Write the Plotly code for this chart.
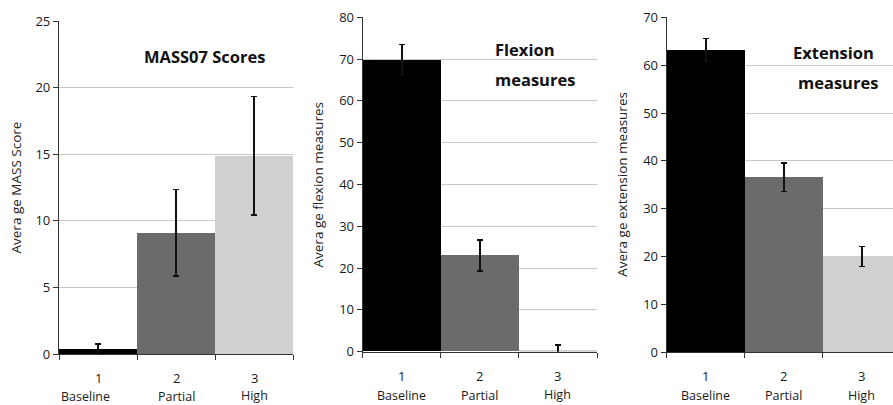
import plotly.graph_objects as go

W, H = 893, 405

categories = [1, 2, 3]
cat_names = ["Baseline", "Partial", "High"]
bar_colors = ["#000000", "#6b6b6b", "#d0d0d0"]

mass_vals = [0.35, 9.1, 14.9]
mass_err = [0.4, 3.25, 4.45]

flex_vals = [69.8, 23.0, 0.1]
flex_err = [3.7, 3.7, 1.5]

ext_vals = [63.2, 36.6, 20.0]
ext_err = [2.4, 3.0, 2.1]

y_titles = ["Avera ge MASS Score", "Avera ge flexion measures", "Avera ge extension measures"]
y_ranges = [[0, 25], [0, 80], [0, 70]]
y_dticks = [5, 10, 10]

FONT = "Open Sans"

# pixel geometry (left, right, top, bottom)
panels_px = [(59, 293, 21, 354), (362.7, 597, 17.3, 351.7), (666.7, 893, 17.3, 352.3)]
x_ranges = [[0.5, 3.5], [0.5, 3.5], [0.5, 0.5 + (893 - 666.7) / 78.1]]
ytitle_x = [15, 318, 622]
# small per-label offsets seen in the reference (panel 1 "Baseline" sits left of its tick)
name_xshift = [[-13, 0, 0], [0, 0, 0], [0, 0, 0]]
name_yshift = [[-42, -42, -41], [-44, -44, -43], [-43, -43, -43]]

fig = go.Figure()
series = [(mass_vals, mass_err), (flex_vals, flex_err), (ext_vals, ext_err)]
for i, (vals, errs) in enumerate(series):
    sfx = "" if i == 0 else str(i + 1)
    fig.add_trace(go.Bar(
        x=categories, y=vals,
        marker=dict(color=bar_colors, line=dict(width=0)),
        error_y=dict(type="data", array=errs, color="#111111", thickness=1.5, width=3),
        width=1.0,
        xaxis="x" + sfx, yaxis="y" + sfx, showlegend=False,
    ))

layout = dict(
    width=W, height=H,
    margin=dict(l=0, r=0, t=0, b=0),
    paper_bgcolor="white", plot_bgcolor="white",
    bargap=0,
    font=dict(family=FONT, color="#222222"),
)
for i, (l, r, t, b) in enumerate(panels_px):
    sfx = "" if i == 0 else str(i + 1)
    layout["xaxis" + sfx] = dict(
        domain=[l / W, min(r / W, 1.0)], range=x_ranges[i],
        anchor="y" + sfx, showgrid=False, zeroline=False,
        showline=True, linecolor="#333333", linewidth=1.2,
        tickvals=[0.5, 1.5, 2.5, 3.5], ticktext=["", "", "", ""],
        ticks="outside", ticklen=5, tickcolor="#333333",
        fixedrange=True, automargin=False,
    )
    layout["yaxis" + sfx] = dict(
        domain=[1 - b / H, 1 - t / H], range=y_ranges[i], dtick=y_dticks[i],
        anchor="x" + sfx, showgrid=True, gridcolor="#c8c8c8", gridwidth=1,
        zeroline=False, showline=True, linecolor="#333333", linewidth=1.2,
        ticks="outside", ticklen=5, tickcolor="#333333",
        tickfont=dict(size=13, color="#1a1a1a", family=FONT),
        automargin=False, fixedrange=True,
    )
fig.update_layout(**layout)


def ann(x, y, text, size, **kw):
    d = dict(x=x / W, y=1 - y / H, xref="paper", yref="paper", text=text, showarrow=False,
             xanchor="center", yanchor="middle", font=dict(size=size, family=FONT, color="#111111"))
    d.update(kw)
    return d


annotations = []
for i in range(3):
    sfx = "" if i == 0 else str(i + 1)
    l, r, t, b = panels_px[i]
    annotations.append(ann(ytitle_x[i], (t + b) / 2, y_titles[i], 13.5, textangle=-90,
                           font=dict(size=13.5, family=FONT, color="#222222")))
    for j, (c, name) in enumerate(zip(categories, cat_names)):
        annotations.append(dict(x=c, y=0, xref="x" + sfx, yref="y" + sfx, text=str(c),
                                showarrow=False, yshift=-24, font=dict(size=13, family=FONT, color="#1a1a1a")))
        annotations.append(dict(x=c, y=0, xref="x" + sfx, yref="y" + sfx, text=name,
                                showarrow=False, xshift=name_xshift[i][j], yshift=name_yshift[i][j],
                                font=dict(size=12.5, family=FONT, color="#1a1a1a")))

annotations.append(ann(205, 57, "<b>MASS07 Scores</b>", 16.5))
annotations.append(ann(493, 49, "<b>Flexion</b>", 16.5, xanchor="left"))
annotations.append(ann(493, 79, "<b>measures</b>", 16.5, xanchor="left"))
annotations.append(ann(833, 52, "<b>Extension</b>", 16.5))
annotations.append(ann(838, 82, "<b>measures</b>", 16.5))
fig.update_layout(annotations=annotations)

fig.write_html("out.html", config={"displayModeBar": False},
               post_script="document.body.style.margin='0';document.body.style.overflow='hidden';")
